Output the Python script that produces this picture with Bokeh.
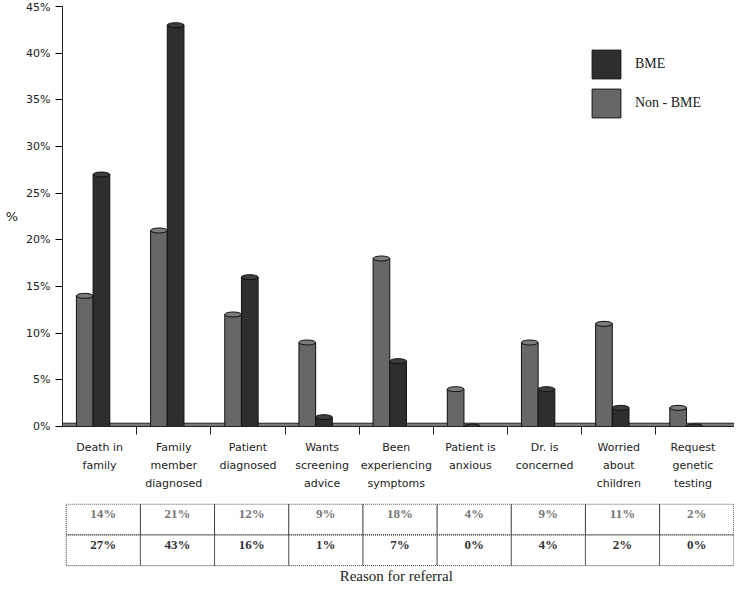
from bokeh.plotting import figure
from bokeh.models import (Range1d, FixedTicker, PrintfTickFormatter, Legend,
                          LegendItem, ColumnDataSource, Label)
from bokeh.layouts import column
from bokeh.core.properties import value
from bokeh.embed import file_html
from bokeh.resources import INLINE

categories = ["Death in\nfamily", "Family\nmember\ndiagnosed", "Patient\ndiagnosed",
              "Wants\nscreening\nadvice", "Been\nexperiencing\nsymptoms",
              "Patient is\nanxious", "Dr. is\nconcerned", "Worried\nabout\nchildren",
              "Request\ngenetic\ntesting"]
non_bme = [14, 21, 12, 9, 18, 4, 9, 11, 2]
bme = [27, 43, 16, 1, 7, 0, 4, 2, 0]
y_ticks = [0, 5, 10, 15, 20, 25, 30, 35, 40, 45]

NON_COL = "#676767"
BME_COL = "#2e2e2e"
n = len(categories)
idx = list(range(n))
BW = 0.225

src = ColumnDataSource(dict(
    x_non=[i + 0.30 for i in idx],
    x_bme=[i + 0.525 for i in idx],
    non=non_bme,
    bme=bme,
))

x_range = Range1d(0, n + 0.06)
p = figure(width=734, height=500, x_range=x_range, y_range=Range1d(0, 45),
           toolbar_location=None, output_backend="svg",
           min_border_left=62, min_border_right=0, min_border_top=6, min_border_bottom=74)
p.outline_line_color = None
p.xgrid.visible = False
p.ygrid.visible = False

# floor plate
p.quad(left=[0], right=[n + 0.06], bottom=[0], top=[0.35],
       fill_color="#7a7a7a", line_color="#222222", line_width=1)

r_non = p.vbar(x="x_non", top="non", width=BW, bottom=0, source=src,
               fill_color=NON_COL, line_color="#111111", line_width=1)
r_bme = p.vbar(x="x_bme", top="bme", width=BW, bottom=0, source=src,
               fill_color=BME_COL, line_color="#111111", line_width=1)
p.ellipse(x="x_non", y="non", width=BW, height=5, height_units="screen", source=src,
          fill_color="#7c7c7c", line_color="#111111", line_width=1)
p.ellipse(x="x_bme", y="bme", width=BW, height=5, height_units="screen", source=src,
          fill_color="#3e3e3e", line_color="#111111", line_width=1)

# y axis
p.yaxis.ticker = FixedTicker(ticks=y_ticks)
p.yaxis.formatter = PrintfTickFormatter(format="%d%%")
p.yaxis.major_tick_out = 7
p.yaxis.major_tick_in = 0
p.yaxis.minor_tick_line_color = None
p.yaxis.major_label_text_font = "DejaVu Sans"
p.yaxis.major_label_text_font_size = "11px"
p.yaxis.major_label_text_color = "#222222"
p.yaxis.major_label_standoff = 5
p.yaxis.axis_label = "%"
p.yaxis.axis_label_orientation = "horizontal"
p.yaxis.axis_label_text_font = "DejaVu Sans"
p.yaxis.axis_label_text_font_size = "13px"
p.yaxis.axis_label_text_font_style = "normal"
p.yaxis.axis_label_text_color = "#222222"
p.yaxis.axis_label_standoff = 5
p.yaxis.axis_line_color = "#222222"

# x axis: labels at centres, ticks at category boundaries
p.xaxis.ticker = FixedTicker(ticks=[i + 0.5 for i in idx], minor_ticks=list(range(1, n)))
p.xaxis.major_label_overrides = {i + 0.5: c for i, c in zip(idx, categories)}
p.xaxis.major_tick_line_color = None
p.xaxis.major_tick_out = 0
p.xaxis.major_tick_in = 0
p.xaxis.minor_tick_out = 8
p.xaxis.minor_tick_in = 0
p.xaxis.minor_tick_line_color = "#222222"
p.xaxis.major_label_standoff = 6
p.xaxis.major_label_text_font = "DejaVu Sans"
p.xaxis.major_label_text_font_size = "11px"
p.xaxis.major_label_text_color = "#222222"
p.xaxis.major_label_text_line_height = 1.4
p.xaxis.axis_line_color = "#222222"

legend = Legend(items=[LegendItem(label="BME", renderers=[r_bme]),
                       LegendItem(label="Non - BME", renderers=[r_non])],
                location=(526, 305), glyph_width=36, glyph_height=36, label_height=36,
                spacing=3, padding=0, margin=0, border_line_color=None,
                background_fill_alpha=0, label_text_font="Liberation Serif",
                label_text_font_size="14px", label_standoff=11, label_text_color="#222222")
p.add_layout(legend)

# data table below
p2 = figure(width=734, height=83, x_range=x_range, y_range=Range1d(-0.58, 2.02),
            toolbar_location=None, output_backend="svg",
            x_axis_location=None, y_axis_location=None,
            min_border_left=62, min_border_right=0, min_border_top=3, min_border_bottom=0)
p2.outline_line_color = None
p2.xgrid.visible = False
p2.ygrid.visible = False

cell_left = [i + 0.05 for i in idx] * 2
cell_right = [i + 1.05 for i in idx] * 2
cell_bottom = [1] * n + [0] * n
cell_top = [2] * n + [1] * n
p2.quad(left=cell_left, right=cell_right, bottom=cell_bottom, top=cell_top,
        fill_color=None, line_color="#333333", line_dash="1 1", line_width=1)

tsrc = ColumnDataSource(dict(
    x=[i + 0.55 for i in idx] * 2,
    y=[1.7] * n + [0.7] * n,
    t=[f"{v}%" for v in non_bme] + [f"{v}%" for v in bme],
    c=["#777777"] * n + ["#333333"] * n,
))
p2.text(x="x", y="y", text="t", source=tsrc, text_color="c",
        text_font=value("Liberation Serif"), text_font_size="13px",
        text_font_style="bold", text_align="center", text_baseline="middle")

p2.add_layout(Label(x=n / 2, y=-0.32, text="Reason for referral",
                    text_font="Liberation Serif", text_font_size="15px",
                    text_color="#222222", text_align="center", text_baseline="middle"))

layout = column(p, p2, spacing=0)
open("out.html", "w").write(file_html(layout, INLINE))
